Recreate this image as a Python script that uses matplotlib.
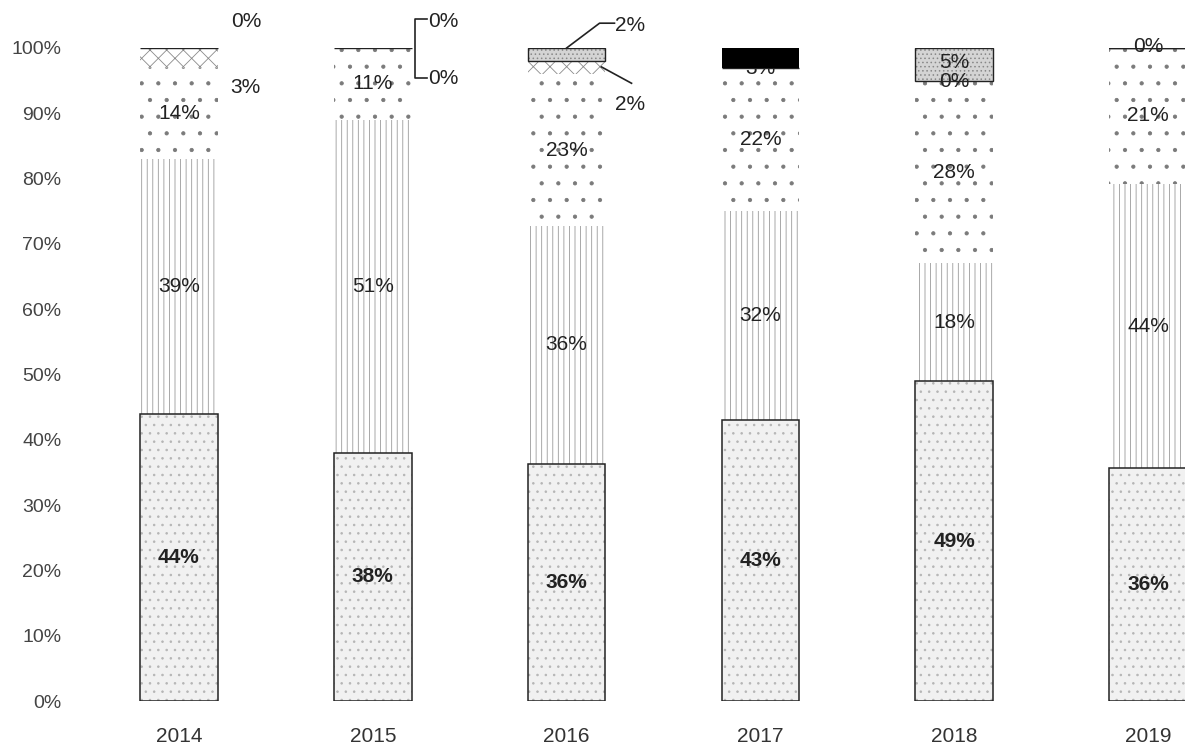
import numpy as np
import matplotlib.pyplot as plt

years = ['2014', '2015', '2016', '2017', '2018', '2019']

# shares per year, bottom to top of each stack
base = [44, 38, 36, 43, 49, 36]
striped = [39, 51, 36, 32, 18, 44]
dotted = [14, 11, 23, 22, 28, 21]
wavy = [3, 0, 2, 0, 0, 0]
grey = [0, 0, 2, 0, 5, 0]
black = [0, 0, 0, 3, 0, 0]

yticks = [0, 10, 20, 30, 40, 50, 60, 70, 80, 90, 100]

plt.rcParams['font.family'] = ['Liberation Sans', 'DejaVu Sans']
plt.rcParams['hatch.linewidth'] = 0.6

fig = plt.figure(figsize=(11.85, 7.52), dpi=100)
ax = fig.add_axes([0.06, 51 / 752, 0.94, 653 / 752])

x = np.arange(len(years))
w = 0.4
series = [base, striped, dotted, wavy, grey, black]
arr = np.array(series, dtype=float)
share = arr / arr.sum(axis=0) * 100
bottoms = np.vstack([np.zeros(len(years)), np.cumsum(share, axis=0)[:-1]])

# bottom layer: light speckled box with black outline
ax.bar(x, share[0], w, bottom=bottoms[0], color='#f1f1f1', edgecolor='#b5b5b5',
       hatch='..', linewidth=0, zorder=1)
ax.bar(x, share[0], w, bottom=bottoms[0], fill=False, edgecolor='#222222',
       linewidth=1.1, zorder=2)
# vertical stripes
ax.bar(x, share[1], w, bottom=bottoms[1], color='white', edgecolor='#9a9a9a',
       hatch='|||', linewidth=0, zorder=1)
# sparse dots
ax.bar(x, share[2], w, bottom=bottoms[2], color='white', edgecolor='#7a7a7a',
       hatch='.', linewidth=0, zorder=1)
# wavy
ax.bar(x, share[3], w, bottom=bottoms[3], color='white', edgecolor='#8a8a8a',
       hatch='xx', linewidth=0, zorder=1)
# grey box
ax.bar(x, share[4], w, bottom=bottoms[4], color='#d4d4d4', edgecolor='#888888',
       hatch='....', linewidth=0, zorder=1)
ax.bar(x, share[4], w, bottom=bottoms[4], fill=False, edgecolor='#222222',
       linewidth=1.0, zorder=2)
# black top (2017)
ax.bar(x, share[5], w, bottom=bottoms[5], color='black', linewidth=0, zorder=2)

lab = dict(ha='center', va='center', color='#222222', fontsize=15)

# labels centered in the three main layers
for k in range(3):
    for i in range(len(years)):
        ax.text(x[i], bottoms[k][i] + share[k][i] / 2, f'{series[k][i]}%', zorder=3,
                fontweight='bold' if k == 0 else 'normal', **lab)

# 2017 black segment label (partly hidden behind the bar)
ax.text(x[3], bottoms[5][3] - 0.1, f'{black[3]}%', zorder=1.5, **lab)
# 2018 small segments
ax.text(x[4], bottoms[4][4] + share[4][4] / 2 + 0.3, f'{grey[4]}%', zorder=3, **lab)
ax.text(x[4], bottoms[3][4] - 0.1, f'{wavy[4]}%', zorder=3, **lab)
# 2019 zero on top
ax.text(x[5], bottoms[4][5] + 0.2, f'{grey[5]}%', zorder=3, **lab)

# 2014 labels beside the bar
ax.text(x[0] + 0.345, 104.0, f'{grey[0]}%', clip_on=False, **lab)
ax.text(x[0] + 0.345, 93.9, f'{wavy[0]}%', **lab)

# 2015 bracket labels
ax.text(x[1] + 0.366, 104.0, f'{grey[1]}%', clip_on=False, **lab)
ax.text(x[1] + 0.366, 95.3, f'{wavy[1]}%', **lab)
ax.plot([x[1] + 0.28, x[1] + 0.216, x[1] + 0.216, x[1] + 0.28],
        [104.4, 104.4, 95.4, 95.4], color='#222222', lw=1.2, clip_on=False)

# 2016 leader lines
ax.text(x[2] + 0.325, 103.5, f'{grey[2]}%', clip_on=False, **lab)
ax.plot([x[2] + 0.247, x[2] + 0.17, x[2]], [103.8, 103.8, 100.0],
        color='#222222', lw=1.2, clip_on=False, zorder=3)
ax.text(x[2] + 0.325, 91.3, f'{wavy[2]}%', **lab)
ax.plot([x[2] + 0.18, x[2] + 0.335], [97.1, 94.6], color='#222222', lw=1.2, zorder=3)

ax.set_xlim((70 - 178) / 194, (1185 - 178) / 194)
ax.set_ylim(0, 100)
ax.set_yticks(yticks)
ax.set_yticklabels([f'{t}%' for t in yticks])
ax.set_xticks(x)
ax.set_xticklabels(years)
ax.tick_params(axis='y', length=0, pad=7, labelsize=14, labelcolor='#444444')
ax.tick_params(axis='x', length=0, pad=19, labelsize=15, labelcolor='#333333')
for s in ax.spines.values():
    s.set_visible(False)

fig.savefig('out.png', dpi=100)
